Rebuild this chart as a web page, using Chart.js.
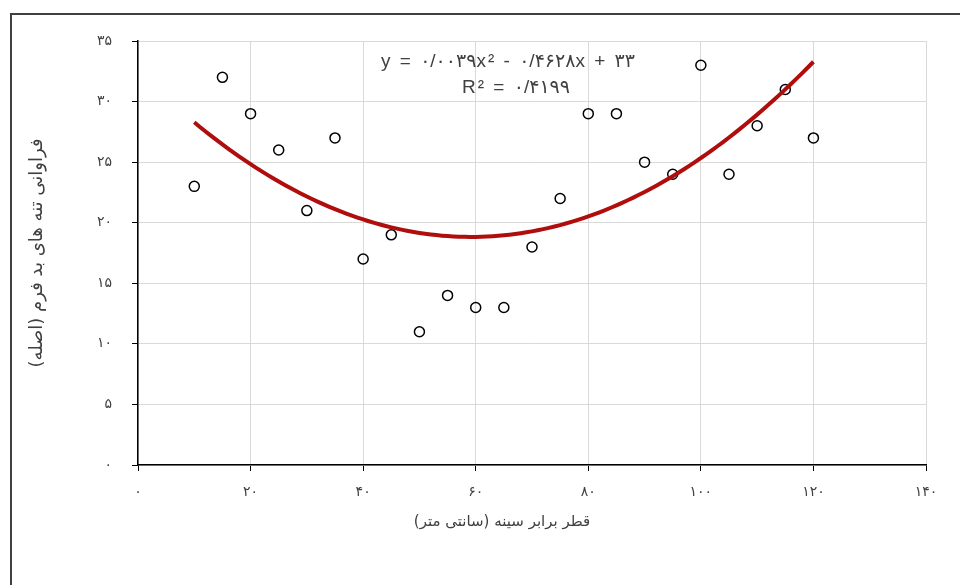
<!DOCTYPE html>
<html>
<head>
<meta charset="utf-8">
<script src="https://cdn.jsdelivr.net/npm/chart.js@4.4.1/dist/chart.umd.min.js"></script>
<style>
    html, body { margin: 0; padding: 0; background: #fff; }
    #wrap { position: relative; width: 960px; height: 585px; overflow: hidden; }
    #frame { position: absolute; left: 10px; top: 13px; width: 1000px; height: 1000px; border: 2px solid #404040; pointer-events: none; }
</style>
</head>
<body>
<div id="wrap">
    <canvas id="chart" width="960" height="585"></canvas>
    <div id="frame"></div>
</div>
<script>
// diameter at breast height (cm) and count of badly formed stems
var diameters = [10, 15, 20, 25, 30, 35, 40, 45, 50, 55, 60, 65, 70, 75, 80, 85, 90, 95, 100, 105, 110, 115, 120];
var counts = [23, 32, 29, 26, 21, 27, 17, 19, 11, 14, 13, 13, 18, 22, 29, 29, 25, 24, 33, 24, 28, 31, 27];

var xTicks = [0, 20, 40, 60, 80, 100, 120, 140];
var xTickLabels = ['۰', '۲۰', '۴۰', '۶۰', '۸۰', '۱۰۰', '۱۲۰', '۱۴۰'];
var yTicks = [0, 5, 10, 15, 20, 25, 30, 35];
var yTickLabels = ['۰', '۵', '۱۰', '۱۵', '۲۰', '۲۵', '۳۰', '۳۵'];

var xTitle = 'قطر برابر سینه (سانتی متر)';
var yTitle = 'فراوانی تنه های بد فرم (اصله)';
var equationLines = ['y = ۰/۰۰۳۹x² - ۰/۴۶۲۸x + ۳۳', 'R² = ۰/۴۱۹۹'];

// least squares fit of a 2nd order polynomial, like the Excel trendline
function polyFit2(xs, ys) {
    var s = [0, 0, 0, 0, 0], t = [0, 0, 0];
    for (var i = 0; i < xs.length; i++) {
        var p = 1;
        for (var k = 0; k < 5; k++) {
            s[k] += p;
            if (k < 3) t[k] += p * ys[i];
            p *= xs[i];
        }
    }
    var m = [[s[0], s[1], s[2], t[0]], [s[1], s[2], s[3], t[1]], [s[2], s[3], s[4], t[2]]];
    for (var c = 0; c < 3; c++) {
        for (var r = c + 1; r < 3; r++) {
            var f = m[r][c] / m[c][c];
            for (var j = c; j < 4; j++) m[r][j] -= f * m[c][j];
        }
    }
    var coef = [0, 0, 0];
    for (var r2 = 2; r2 >= 0; r2--) {
        var v = m[r2][3];
        for (var j2 = r2 + 1; j2 < 3; j2++) v -= m[r2][j2] * coef[j2];
        coef[r2] = v / m[r2][r2];
    }
    return coef;
}

var coef = polyFit2(diameters, counts);
var trend = [];
for (var x = diameters[0]; x <= diameters[diameters.length - 1]; x += 1) {
    trend.push({ x: x, y: coef[0] + coef[1] * x + coef[2] * x * x });
}

var points = diameters.map(function (d, i) { return { x: d, y: counts[i] }; });

// trendline label and x axis title (Excel puts the title a bit left of centre)
var textPlugin = {
    id: 'texts',
    afterDatasetsDraw: function (chart) {
        var ctx = chart.ctx;
        ctx.save();
        ctx.fillStyle = '#404040';
        ctx.textAlign = 'center';
        ctx.textBaseline = 'middle';
        ctx.font = '19px "Liberation Sans", "DejaVu Sans", sans-serif';
        ctx.letterSpacing = '2px';
        ctx.fillText(equationLines[0], 508, 62);
        ctx.fillText(equationLines[1], 516, 88);
        ctx.letterSpacing = '0px';
        ctx.font = '15px "DejaVu Sans", sans-serif';
        ctx.fillText(xTitle, 502, 522);
        ctx.restore();
    }
};

var gridStyle = { color: '#d9d9d9', lineWidth: 1, tickLength: 6, tickColor: '#000' };

new Chart(document.getElementById('chart'), {
    type: 'scatter',
    data: {
        datasets: [{
            data: points,
            pointStyle: 'circle',
            pointRadius: 5,
            pointBorderWidth: 1.5,
            pointBorderColor: '#000',
            pointBackgroundColor: 'rgba(255,255,255,0)',
            order: 2
        }, {
            type: 'line',
            data: trend,
            borderColor: '#b00d0d',
            borderWidth: 4,
            pointRadius: 0,
            fill: false,
            tension: 0,
            order: 1
        }]
    },
    options: {
        responsive: false,
        animation: false,
        layout: { padding: { top: 41, right: 34, left: 0, bottom: 0 } },
        plugins: { legend: { display: false }, tooltip: { enabled: false } },
        scales: {
            x: {
                type: 'linear',
                min: 0,
                max: 140,
                grid: gridStyle,
                border: { color: '#000', width: 1.5 },
                ticks: {
                    stepSize: 20,
                    padding: 13,
                    color: '#404040',
                    font: { family: 'DejaVu Sans', size: 14 },
                    maxRotation: 0,
                    callback: function (value) {
                        var i = xTicks.indexOf(value);
                        return i >= 0 ? xTickLabels[i] : '';
                    }
                },
                afterFit: function (scale) { scale.height = 120; }
            },
            y: {
                type: 'linear',
                min: 0,
                max: 35,
                grid: gridStyle,
                border: { color: '#000', width: 1.5 },
                ticks: {
                    stepSize: 5,
                    padding: 20,
                    color: '#404040',
                    font: { family: 'DejaVu Sans', size: 14 },
                    callback: function (value) {
                        var i = yTicks.indexOf(value);
                        return i >= 0 ? yTickLabels[i] : '';
                    }
                },
                title: {
                    display: true,
                    text: yTitle,
                    color: '#404040',
                    font: { family: 'DejaVu Sans', size: 18 },
                    padding: { top: 27, bottom: 0 }
                },
                afterFit: function (scale) { scale.width = 138; }
            }
        }
    },
    plugins: [textPlugin]
});
</script>
</body>
</html>
